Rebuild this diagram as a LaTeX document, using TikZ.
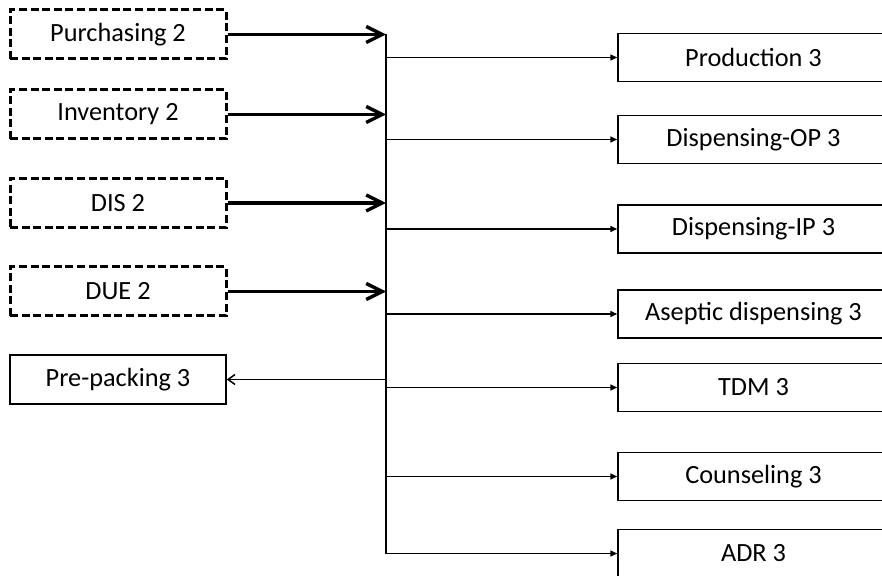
\documentclass[tikz,border=0pt]{standalone}
\usepackage{fontspec}
\setmainfont{Carlito}
\usetikzlibrary{arrows.meta}

\begin{document}
\begin{tikzpicture}[x=.5pt,y=-.5pt,
    font=\fontsize{13.15}{15}\selectfont,
    oldbox/.style={draw,line width=1.5pt,dash pattern=on 4pt off 1.8pt,
        minimum width=108pt,minimum height=24.5pt,inner sep=0pt},
    newbox/.style={draw,line width=.75pt,minimum width=135.5pt,
        minimum height=24pt,inner sep=0pt},
    leftbox/.style={draw,line width=.75pt,minimum width=108pt,
        minimum height=24.5pt,inner sep=0pt},
    feed/.style={line width=1.7pt,-{Straight Barb[length=8pt,width=8pt]}},
    branch/.style={line width=.75pt,-{Triangle[length=3.5pt,width=3pt]}},
    back/.style={line width=.75pt,-{Straight Barb[length=3.5pt,width=5pt]}}]
\useasboundingbox (0,0) rectangle (882,576);
\clip (0,0) rectangle (882,576);

% modules of phase 2
\node (pur) [oldbox] at (118,34.5) {Purchasing 2};
\node (inv) [oldbox] at (118,114.5) {Inventory 2};
\node (dis) [oldbox] at (118,203) {DIS 2};
\node (due) [oldbox] at (118,291.5) {DUE 2};
\node (pre) [leftbox] at (118,379.5) {Pre-packing 3};

% modules of phase 3
\node (prod) [newbox] at (753.5,57.5) {Production 3};
\node (dop) [newbox] at (753.5,139.5) {Dispensing-OP 3};
\node (dip) [newbox] at (753.5,229) {Dispensing-IP 3};
\node (asep) [newbox] at (753.5,314) {Aseptic dispensing 3};
\node (tdm) [newbox] at (753.5,387.5) {TDM 3};
\node (coun) [newbox] at (753.5,476.5) {Counseling 3};
\node (adr) [newbox] at (753.5,553.5) {ADR 3};

% the bus
\coordinate (bustop) at (386,34.5);
\coordinate (busbot) at (386,554);
\draw[line width=.9pt] (bustop) -- (busbot);

\foreach \n in {pur,inv,dis,due}
    \draw[feed] (\n.east) -- (\n.east -| bustop);
\foreach \n in {prod,dop,dip,asep,tdm,coun,adr}
    \draw[branch] (bustop |- \n.west) -- (\n.west);
\draw[back] (bustop |- pre.east) -- (pre.east);

\end{tikzpicture}
\end{document}
